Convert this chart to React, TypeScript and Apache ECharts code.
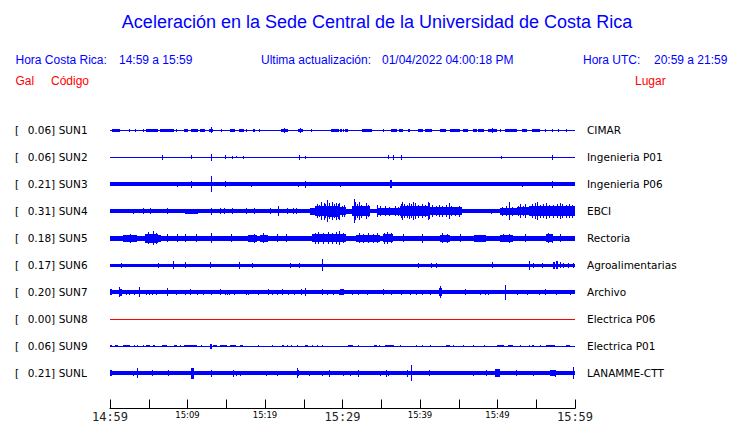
import React, { useEffect, useRef } from "react";
import * as echarts from "echarts";

// ---------- data ----------
const codes = ["SUN1", "SUN2", "SUN3", "SUN4", "SUN5", "SUN6", "SUN7", "SUN8", "SUN9", "SUNL"];
const places = [
  "CIMAR", "Ingenieria P01", "Ingenieria P06", "EBCI", "Rectoria",
  "Agroalimentarias", "Archivo", "Electrica P06", "Electrica P01", "LANAMME-CTT",
];
const peakGal = [0.06, 0.06, 0.21, 0.31, 0.18, 0.17, 0.2, 0.0, 0.06, 0.21];
// background noise half-amplitude of each trace (display units, 27 units per trace slot)
const noiseFloor = [0.5, 0.5, 2, 2, 2.7, 1.7, 1.7, 0.5, 0.5, 1.8];

const xTickMinutes = [0, 10, 20, 30, 40, 50, 60];
const xTickLabels = ["14:59", "15:09", "15:19", "15:29", "15:39", "15:49", "15:59"];
const horaCR = "14:59 a 15:59";
const horaUTC = "20:59 a 21:59";
const updated = "01/04/2022 04:00:18 PM";

// events: [startMinute, endMinute, halfAmplitude]
const sun1 = [
  [0.2, 1.3, 1.5], [2.4, 2.6, 1.5], [3.2, 3.3, 1.5], [4.2, 4.3, 1.5], [4.7, 6.2, 1.5], [6.5, 8.2, 1.5],
  [8.5, 8.5, 1.5], [9.5, 10.1, 1.5], [10.5, 11.3, 1.5], [11.6, 12.3, 1.5], [12.8, 13.3, 1.7], [13.0, 13.0, 3],
  [14.3, 14.3, 1.5], [15.5, 16.1, 1.5], [16.6, 17.3, 1.5], [17.6, 17.6, 1.5], [18.5, 18.7, 1.5], [19.2, 19.2, 1.5],
  [22.1, 23.0, 1.7], [22.5, 22.5, 2.5], [24.2, 24.9, 1.7], [24.5, 24.5, 2.5], [25.9, 25.9, 1.5], [28.5, 29.5, 1.5],
  [29.7, 29.9, 1.5], [30.1, 30.1, 1.5], [30.3, 30.7, 1.5], [32.5, 33.8, 1.7], [35.2, 35.2, 1.5], [36.3, 37.0, 1.5],
  [37.3, 37.8, 1.5], [38.5, 38.7, 1.5], [39.8, 40.4, 1.5], [40.6, 41.6, 1.5], [42.6, 43.4, 1.5], [43.9, 45.1, 1.5],
  [45.6, 46.2, 1.5], [46.9, 47.3, 1.5], [47.5, 48.3, 1.5], [48.8, 49.9, 1.7], [49.3, 49.3, 2.5], [50.3, 50.3, 1.5],
  [51.0, 52.5, 1.5], [53.1, 53.8, 1.5], [54.4, 55.5, 1.5], [56.1, 56.3, 1.5], [57.0, 57.0, 1.5], [57.8, 57.8, 1.5],
  [58.9, 58.9, 1.5],
];
const sun2 = [
  [6.7, 6.7, 2.5], [10.4, 10.6, 2], [13.0, 13.0, 3.5], [14.8, 14.8, 2], [15.7, 15.7, 1.5], [16.3, 16.3, 1],
  [17.2, 17.2, 1.5], [24.4, 24.4, 2.5], [25.2, 25.2, 1.5], [35.9, 36.0, 2], [36.5, 36.5, 2.5], [37.5, 37.5, 2.5],
  [50.5, 50.5, 1.5], [57.0, 57.0, 2.5],
];
const sun3 = [
  [8.6, 8.6, 2.5], [10.4, 10.6, 3.5], [13.0, 13.0, 8], [14.8, 14.8, 3], [18.2, 18.2, 2.5], [24.3, 24.3, 2.5],
  [25.2, 25.2, 3.5], [29.7, 29.7, 2.5], [36.1, 36.4, 4], [53.2, 53.2, 2.5], [57.0, 57.0, 3.5],
];
const sun4 = [
  [3.0, 3.0, 2.5], [4.3, 4.3, 3], [5.1, 5.1, 3], [7.3, 7.3, 3], [9.7, 11.4, 2.3], [13.0, 13.0, 3.5],
  [14.2, 14.2, 3], [14.7, 14.7, 3], [15.7, 15.7, 3], [17.6, 17.6, 3], [18.6, 18.6, 3], [20.7, 20.7, 3],
  [21.7, 21.7, 5], [22.8, 22.8, 3], [23.6, 23.6, 3], [24.0, 24.0, 3],
  // first burst
  [25.8, 26.6, 3.5], [26.6, 28.0, 5], [28.0, 29.7, 5.5], [29.7, 30.5, 4], [30.5, 31.2, 2.5], [31.2, 33.5, 5],
  [26.4, 26.4, 5], [26.7, 26.7, 7], [27.0, 27.0, 6], [27.25, 27.25, 9], [27.6, 27.6, 8.5], [27.8, 27.8, 7],
  [28.05, 28.05, 11], [28.3, 28.3, 8], [28.7, 28.7, 9], [28.9, 28.9, 7], [29.1, 29.1, 8.5], [29.4, 29.4, 7.5],
  [29.6, 29.6, 8.5], [29.9, 29.9, 5.5], [30.2, 30.2, 6], [31.3, 31.3, 5], [31.45, 31.45, 12], [31.6, 31.6, 9],
  [31.9, 31.9, 7], [32.1, 32.1, 9], [32.4, 32.4, 6.5], [33.0, 33.0, 8], [33.3, 33.3, 6],
  // second burst
  [34.4, 37.4, 3.5], [37.4, 41.3, 5], [41.3, 45.4, 4],
  [34.5, 34.5, 6], [34.9, 34.9, 5], [35.5, 35.5, 5], [36.0, 36.0, 4.5], [36.8, 36.8, 5], [37.2, 37.2, 4.5],
  [37.5, 37.5, 7], [37.65, 37.65, 9], [37.9, 37.9, 7], [38.3, 38.3, 6.5], [38.6, 38.6, 8], [38.9, 38.9, 7],
  [39.1, 39.1, 9], [39.4, 39.4, 8], [39.8, 39.8, 6.5], [40.2, 40.2, 7], [40.6, 40.6, 6], [41.0, 41.0, 9],
  [41.2, 41.2, 8], [41.6, 41.6, 6], [42.0, 42.0, 5], [42.4, 42.4, 6], [42.9, 42.9, 5.5], [43.3, 43.3, 6],
  [43.7, 43.7, 8], [44.0, 44.0, 5], [44.5, 44.5, 4.5], [45.0, 45.0, 5.5],
  [49.2, 49.2, 2.5],
  // third burst
  [50.3, 52.5, 3.5], [52.5, 54.2, 4], [54.2, 60, 5],
  [50.6, 50.6, 4.5], [51.1, 51.1, 5], [51.5, 51.5, 9], [51.9, 51.9, 4.5], [52.6, 52.6, 5], [52.9, 52.9, 7],
  [53.3, 53.3, 5], [53.6, 53.6, 7], [54.0, 54.0, 5], [54.4, 54.4, 7], [54.8, 54.8, 8], [55.1, 55.1, 9],
  [55.5, 55.5, 6.5], [55.9, 55.9, 7], [56.2, 56.2, 8], [56.6, 56.6, 6.5], [57.2, 57.2, 6.5], [57.7, 57.7, 7],
  [58.0, 58.0, 8], [58.3, 58.3, 7], [58.8, 58.8, 6.5], [59.2, 59.2, 7], [59.6, 59.6, 6.5],
];
const sun5 = [
  [1.7, 3.5, 3.5], [2.6, 2.6, 4.5], [4.5, 6.2, 4.5], [4.9, 4.9, 6], [5.6, 5.6, 7], [5.9, 5.9, 5.5],
  [6.2, 6.6, 3.5], [7.3, 7.3, 4], [8.6, 8.6, 4], [9.7, 9.7, 4], [11.1, 11.1, 4], [13.0, 13.0, 5],
  [15.6, 15.6, 4], [17.8, 19.0, 3.5], [18.6, 18.6, 4.5], [19.4, 20.4, 3.5], [19.7, 19.7, 5], [21.5, 21.5, 4],
  [22.7, 22.7, 4], [26.0, 30.5, 4], [26.4, 26.4, 5.5], [26.9, 26.9, 6], [27.5, 27.5, 5.5], [28.1, 28.1, 6],
  [28.7, 28.7, 5.5], [29.2, 29.2, 6], [29.55, 29.55, 7], [30.1, 30.1, 5], [31.8, 34.8, 3.5], [32.1, 32.1, 5],
  [32.7, 32.7, 4.5], [33.3, 33.3, 5], [33.9, 33.9, 4.5], [34.5, 34.5, 5], [35.2, 36.5, 4], [35.4, 35.4, 5.5],
  [35.7, 35.7, 6], [36.2, 36.2, 5], [37.8, 37.8, 4], [40.2, 40.2, 4.5], [42.6, 43.9, 3.5], [42.9, 42.9, 5],
  [43.5, 43.5, 4.5], [45.1, 45.1, 4], [47.0, 48.5, 3.5], [50.3, 52.0, 3.5], [50.7, 50.7, 4], [51.5, 51.5, 4.5],
  [53.6, 53.6, 4], [56.3, 57.2, 4], [56.5, 56.5, 5], [57.0, 57.0, 4.5], [58.1, 58.1, 4],
];
const sun6 = [
  [1.4, 1.4, 2.5], [6.2, 6.2, 2.5], [8.1, 8.1, 4], [9.7, 9.7, 3], [12.9, 12.9, 3], [16.7, 16.7, 3.5],
  [18.3, 18.3, 2.5], [23.2, 23.2, 2.5], [24.4, 24.4, 2.5], [27.3, 27.3, 6], [39.7, 39.7, 2.5], [41.4, 41.4, 2.5],
  [42.1, 42.1, 2.5], [49.3, 49.3, 3], [54.0, 54.0, 4.5], [54.6, 54.6, 2.5], [55.7, 55.7, 2.5], [57.2, 57.4, 3.5],
  [57.6, 57.8, 4], [58.0, 58.1, 3], [58.5, 58.5, 2.5], [59.1, 59.1, 2.5], [59.8, 59.8, 2.5],
];
const sun7 = [
  [0, 0.2, 3], [1.2, 1.2, 5], [1.3, 1.5, 3.5], [2.0, 2.0, 2.5], [2.4, 2.4, 2.5], [3.1, 3.1, 2.5], [3.7, 3.7, 5],
  [4.6, 4.6, 2.5], [5.0, 5.0, 2.5], [5.4, 5.4, 2.5], [5.9, 5.9, 2.5], [7.4, 7.4, 4], [8.5, 8.5, 2.5],
  [9.7, 9.7, 2.5], [10.3, 10.4, 3], [11.2, 11.2, 2.5], [12.0, 12.0, 2.5], [13.0, 13.0, 2.5], [14.2, 14.3, 3],
  [14.8, 14.8, 2.5], [15.1, 15.1, 2.5], [15.4, 15.4, 2.5], [16.0, 16.0, 2.5], [17.6, 17.6, 2.5], [17.8, 17.8, 2.5],
  [19.1, 19.1, 2.5], [20.4, 20.4, 3], [20.9, 20.9, 2.5], [21.5, 21.5, 2.5], [22.2, 22.2, 3], [23.0, 23.0, 2.5],
  [23.8, 23.8, 2.5], [24.7, 24.7, 3], [25.2, 25.2, 4], [27.3, 27.3, 3], [28.0, 28.0, 2.5], [28.8, 28.8, 2.5],
  [29.5, 29.5, 2.5], [29.7, 30.2, 3], [31.2, 31.2, 2.5], [32.0, 32.0, 2.5], [33.1, 33.1, 2.5], [35.2, 35.2, 3],
  [36.3, 36.3, 2.5], [37.6, 37.6, 2.5], [38.7, 38.7, 2.5], [39.5, 39.5, 2.5], [40.2, 40.2, 2.5], [41.3, 41.3, 2.5],
  [42.4, 42.9, 4], [42.6, 42.6, 6], [45.8, 45.8, 3], [47.7, 47.7, 2.5], [48.4, 48.4, 2.5], [48.8, 48.8, 2.5],
  [51.0, 51.0, 7.5], [52.5, 52.5, 2.5], [53.8, 53.8, 2.5], [55.3, 55.3, 2.5], [56.1, 56.1, 3], [57.6, 57.6, 2.5],
  [59.3, 59.3, 2.5],
];
const sun8: number[][] = [];
const sun9 = [
  [0, 0.2, 1.3], [0.6, 1.0, 1.3], [1.7, 2.6, 1.3], [3.1, 3.1, 1.3], [3.5, 3.5, 1.3], [4.3, 4.3, 1.3],
  [4.7, 5.2, 1.3], [5.6, 5.8, 1.3], [6.7, 7.3, 1.3], [8.2, 8.6, 1.3], [9.0, 9.0, 1.3], [9.6, 11.2, 1.3],
  [11.8, 11.8, 1.3], [12.9, 13.1, 2.5], [13.3, 13.8, 1.3], [14.2, 15.1, 1.3], [15.5, 16.3, 1.3], [16.8, 17.2, 1.3],
  [19.1, 19.1, 1.3], [20.9, 20.9, 1.3], [22.2, 22.4, 1.3], [22.8, 22.8, 1.3], [23.4, 23.4, 1.3], [24.1, 24.3, 1.3],
  [25.2, 25.5, 1.3], [26.0, 26.0, 1.3], [26.7, 26.7, 1.3], [27.3, 27.3, 1.3], [30.7, 31.4, 1.3], [32.0, 32.0, 1.3],
  [34.0, 34.4, 1.3], [34.7, 34.7, 1.3], [35.5, 36.6, 1.3], [37.4, 37.6, 1.3], [39.5, 39.5, 1.3], [40.2, 40.2, 1.3],
  [41.3, 41.3, 1.3], [43.4, 43.9, 1.3], [44.3, 44.3, 1.3], [45.5, 45.5, 1.3], [46.9, 46.9, 1.3], [48.2, 48.2, 1.3],
  [49.9, 50.8, 1.3], [51.4, 52.0, 1.3], [52.9, 52.9, 1.3], [54.0, 54.0, 1.3], [54.4, 54.7, 1.3], [55.5, 55.5, 1.3],
  [56.3, 57.4, 1.3], [58.9, 59.4, 1.3],
];
const sunl = [
  [0, 0.2, 3], [3.0, 3.0, 2.5], [3.5, 3.5, 5], [5.4, 5.4, 3], [7.5, 7.5, 3], [10.5, 10.9, 5.5], [13.0, 13.0, 3.5],
  [15.9, 15.9, 3.5], [16.3, 16.3, 2.5], [16.8, 16.8, 2.5], [20.1, 20.1, 2.5], [21.6, 21.6, 2.5], [24.1, 24.1, 5],
  [24.3, 24.3, 3], [25.7, 25.7, 2.5], [27.3, 27.3, 2.5], [28.3, 28.3, 3.5], [30.1, 30.1, 2.5], [31.0, 31.0, 2.5],
  [32.0, 32.0, 3.5], [34.9, 34.9, 2.5], [35.6, 35.6, 3.5], [35.9, 35.9, 2.5], [38.3, 38.3, 3.5], [38.8, 38.8, 8],
  [41.1, 41.1, 3], [46.9, 46.9, 2.5], [48.5, 48.5, 3], [49.7, 50.3, 4], [52.4, 52.4, 3], [54.6, 54.6, 2.5],
  [56.8, 57.6, 3], [57.4, 57.4, 3.5], [59.7, 59.7, 6],
];
const traceEvents = [sun1, sun2, sun3, sun4, sun5, sun6, sun7, sun8, sun9, sunl];

// ---------- chart ----------
const SLOT = 27; // display units per trace slot
const BLUE = "#0000ff";
const RED = "#ff0000";

export default function App() {
  const ref = useRef<HTMLDivElement>(null);

  useEffect(() => {
    if (!ref.current) return;
    const chart = echarts.init(ref.current, undefined, { renderer: "svg" });

    const data: number[][] = [];
    codes.forEach((_, i) => {
      data.push([i, 0, 60, noiseFloor[i]]);
      traceEvents[i].forEach((e) => data.push([i, e[0], e[1], e[2]]));
    });

    const leftLabels = codes.map((c, i) => `{a|[}{b|${peakGal[i].toFixed(2)}]}{c|${c}}`);

    const hdr = (text: string, x: number, y: number, color: string, size = 12, align = "left") => ({
      type: "text",
      x,
      y,
      style: {
        text,
        fill: color,
        font: `${size}px "Liberation Sans", Arial, sans-serif`,
        textAlign: align,
        textVerticalAlign: "middle",
      },
    });

    chart.setOption({
      animation: false,
      backgroundColor: "#ffffff",
      grid: { left: 110, top: 117, width: 465, height: 270, containLabel: false },
      xAxis: {
        type: "value",
        min: 0,
        max: 60,
        interval: 5,
        position: "bottom",
        offset: 22,
        axisLine: { show: true, onZero: false, lineStyle: { color: "#000", width: 1 } },
        axisTick: { show: true, inside: true, length: 9, lineStyle: { color: "#000", width: 1 } },
        splitLine: { show: false },
        axisLabel: {
          margin: 1,
          formatter: (v: number) => {
            const k = xTickMinutes.indexOf(v);
            if (k < 0) return "";
            return v % 30 === 0 ? `{b|${xTickLabels[k]}}` : `{s|${xTickLabels[k]}}`;
          },
          rich: {
            b: { fontFamily: "DejaVu Sans Mono", fontSize: 12, fontWeight: "normal", color: "#222", lineHeight: 15 },
            s: { fontFamily: "DejaVu Sans", fontSize: 8.5, color: "#000", lineHeight: 11 },
          },
        },
      },
      yAxis: [
        { type: "value", min: -SLOT / 2, max: SLOT * 9.5, inverse: true, show: false },
        {
          type: "category",
          data: leftLabels,
          inverse: true,
          position: "left",
          axisLine: { show: false },
          axisTick: { show: false },
          splitLine: { show: false },
          axisLabel: {
            interval: 0,
            margin: 95,
            align: "left",
            rich: {
              a: { fontFamily: "DejaVu Sans", fontSize: 10.5, color: "#000", width: 12.7 },
              b: { fontFamily: "DejaVu Sans", fontSize: 10.5, color: "#000", width: 31 },
              c: { fontFamily: "DejaVu Sans", fontSize: 10.5, color: "#000" },
            },
          },
        },
        {
          type: "category",
          data: places,
          inverse: true,
          position: "right",
          axisLine: { show: false },
          axisTick: { show: false },
          splitLine: { show: false },
          axisLabel: {
            interval: 0,
            margin: 12,
            align: "left",
            fontFamily: "DejaVu Sans",
            fontSize: 10.5,
            color: "#000",
          },
        },
      ],
      series: [
        {
          type: "custom",
          xAxisIndex: 0,
          yAxisIndex: 0,
          clip: false,
          encode: { x: [1, 2], y: [3] },
          data,
          renderItem: (params: any, api: any) => {
            const s = api.value(0);
            const t0 = api.value(1);
            const t1 = api.value(2);
            const a = api.value(3);
            const c = s * SLOT;
            const p0 = api.coord([t0, c - a]);
            const p1 = api.coord([t1, c + a]);
            let x0 = Math.round(Math.min(p0[0], p1[0]));
            let x1 = Math.round(Math.max(p0[0], p1[0]));
            if (x1 - x0 < 1) x1 = x0 + 1;
            let y0 = Math.round(Math.min(p0[1], p1[1]));
            let y1 = Math.round(Math.max(p0[1], p1[1]));
            if (y1 - y0 < 1) y1 = y0 + 1;
            return {
              type: "rect",
              shape: { x: x0, y: y0, width: x1 - x0, height: y1 - y0 },
              style: { fill: peakGal[s] === 0 ? RED : BLUE },
            };
          },
        },
      ],
      graphic: [
        hdr("Aceleración en la Sede Central de la Universidad de Costa Rica", 377, 22, BLUE, 18, "center"),
        hdr("Hora Costa Rica:", 15.5, 60, BLUE),
        hdr(horaCR, 119, 60, BLUE),
        hdr("Ultima actualización:", 261, 60, BLUE),
        hdr(updated, 382, 60, BLUE),
        hdr("Hora UTC:", 583, 60, BLUE),
        hdr(horaUTC, 654, 60, BLUE),
        hdr("Gal", 15.5, 81, RED),
        hdr("Código", 51, 81, RED),
        hdr("Lugar", 635, 81, RED),
      ],
    });

    return () => chart.dispose();
  }, []);

  return (
    <div
      ref={ref}
      style={{ position: "absolute", left: 0, top: 0, width: 740, height: 423, background: "#fff" }}
    />
  );
}
